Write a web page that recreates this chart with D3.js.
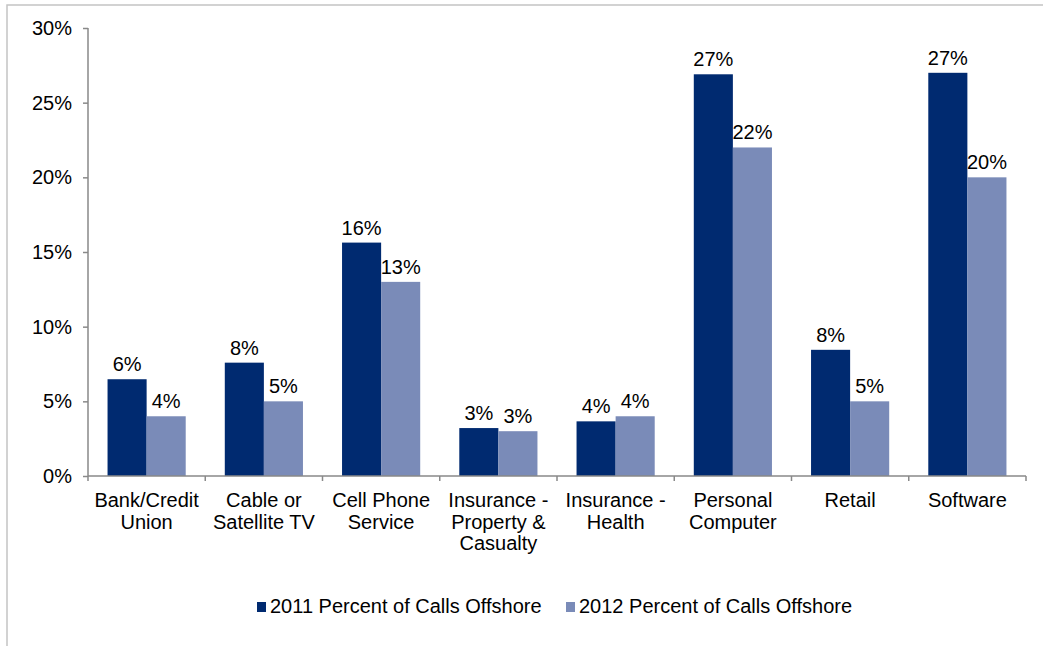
<!DOCTYPE html>
<html>
<head>
<meta charset="utf-8">
<script src="https://cdn.jsdelivr.net/npm/d3@7/dist/d3.min.js"></script>
<style>
  html, body { margin: 0; padding: 0; background: #fff; }
  svg { display: block; font-family: "Liberation Sans", Arial, sans-serif; }
</style>
</head>
<body>
<svg id="chart" width="1043" height="646"></svg>
<script>
// Share of customer-service calls routed offshore, by industry
const categories = [
  ["Bank/Credit", "Union"],
  ["Cable or", "Satellite TV"],
  ["Cell Phone", "Service"],
  ["Insurance -", "Property &", "Casualty"],
  ["Insurance -", "Health"],
  ["Personal", "Computer"],
  ["Retail"],
  ["Software"]
];
const seriesNames = ["2011 Percent of Calls Offshore", "2012 Percent of Calls Offshore"];
const values2011 = [0.0648, 0.0759, 0.1563, 0.0321, 0.0366, 0.2690, 0.0845, 0.2700];
const values2012 = [0.0400, 0.0500, 0.1300, 0.0300, 0.0400, 0.2200, 0.0500, 0.2000];
const yTicks = [0, 0.05, 0.10, 0.15, 0.20, 0.25, 0.30];

const colors = ["#002A70", "#7A8BB8"];
const svg = d3.select("#chart");

// outer chart-area frame
svg.append("rect")
  .attr("x", 7).attr("y", 5)
  .attr("width", 1200).attr("height", 800)
  .attr("fill", "none").attr("stroke", "#c4c4c4").attr("stroke-width", 1.5);

const catKeys = categories.map(c => c.join(" "));
const x = d3.scaleBand().domain(catKeys).range([88, 1026]).padding(0);
const xs = d3.scaleBand().domain([0, 1]).range([0, x.bandwidth()]).paddingInner(0).paddingOuter(0.5);
const y = d3.scaleLinear().domain([0, 0.30]).range([476, 28]);

const pct = d3.format(".0%");
const axisColor = "#898989";

// bars
const series = [values2011, values2012];
series.forEach((vals, si) => {
  svg.append("g").selectAll("rect")
    .data(vals)
    .join("rect")
    .attr("x", (d, i) => x(catKeys[i]) + xs(si))
    .attr("y", d => y(d))
    .attr("width", xs.bandwidth())
    .attr("height", d => y(0) - y(d))
    .attr("fill", colors[si]);

  svg.append("g").selectAll("text")
    .data(vals)
    .join("text")
    .attr("x", (d, i) => x(catKeys[i]) + xs(si) + xs.bandwidth() / 2)
    .attr("y", d => y(d) - 8)
    .attr("text-anchor", "middle")
    .attr("font-size", 20)
    .attr("fill", "#000")
    .text(d => pct(d));
});

// y axis
const yAxis = svg.append("g")
  .attr("transform", "translate(88,0)")
  .call(d3.axisLeft(y).tickValues(yTicks).tickFormat(pct).tickSize(5).tickPadding(11));
yAxis.select(".domain").attr("stroke", axisColor).attr("stroke-width", 1.5).attr("d", "M0,28V476");
yAxis.selectAll(".tick line").attr("stroke", axisColor).attr("stroke-width", 1.5);
yAxis.selectAll(".tick text")
  .attr("font-size", 20).attr("fill", "#000")
  .attr("font-family", "Liberation Sans, Arial, sans-serif");

// x axis: ticks at category boundaries
const xAxisG = svg.append("g");
xAxisG.append("line")
  .attr("x1", x.range()[0]).attr("x2", x.range()[1])
  .attr("y1", y(0)).attr("y2", y(0))
  .attr("stroke", axisColor).attr("stroke-width", 1.5);
const bounds = catKeys.map(k => x(k)).concat([x.range()[1]]);
xAxisG.selectAll("line.tk")
  .data(bounds)
  .join("line")
  .attr("class", "tk")
  .attr("x1", d => d).attr("x2", d => d)
  .attr("y1", y(0)).attr("y2", y(0) + 5)
  .attr("stroke", axisColor).attr("stroke-width", 1.5);

// category labels (multi-line)
const catLabels = xAxisG.selectAll("text.cat")
  .data(categories)
  .join("text")
  .attr("class", "cat")
  .attr("text-anchor", "middle")
  .attr("font-size", 20)
  .attr("fill", "#000");
catLabels.each(function(lines, i) {
  const cx = x(catKeys[i]) + x.bandwidth() / 2;
  d3.select(this).selectAll("tspan")
    .data(lines)
    .join("tspan")
    .attr("x", cx)
    .attr("y", (d, j) => 507 + j * 21.5)
    .text(d => d);
});

// legend
const legendX = [257, 566];
const legend = svg.append("g");
seriesNames.forEach((name, i) => {
  legend.append("rect")
    .attr("x", legendX[i]).attr("y", 602)
    .attr("width", 9).attr("height", 10)
    .attr("fill", colors[i]);
  legend.append("text")
    .attr("x", legendX[i] + 13).attr("y", 613)
    .attr("font-size", 20)
    .attr("fill", "#000")
    .text(name);
});
</script>
</body>
</html>
